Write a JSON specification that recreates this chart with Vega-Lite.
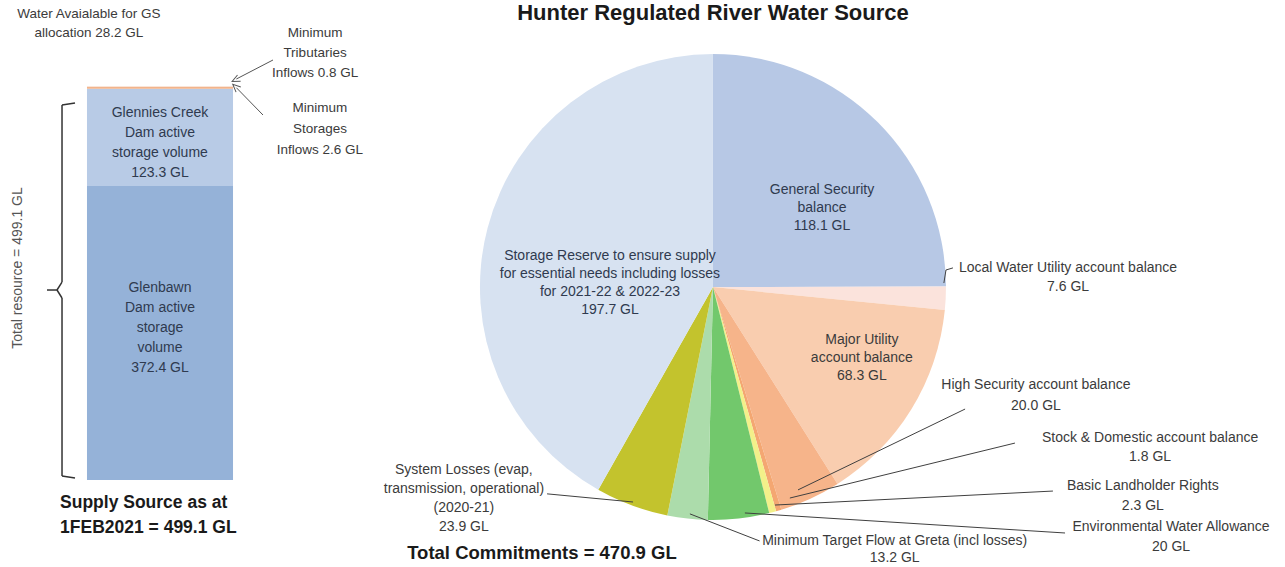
{
  "$schema": "https://vega.github.io/schema/vega-lite/v6.json",
  "padding": 0,
  "spacing": 0,
  "bounds": "flush",
  "background": "white",
  "resolve": {"scale": {"color": "independent"}},
  "config": {"view": {"stroke": null}, "text": {"font": "Liberation Sans"}},
  "datasets": {
    "supply": [
      {"part": "Glenbawn Dam active storage volume", "GL": 372.4, "k": 1},
      {"part": "Glennies Creek Dam active storage volume", "GL": 123.3, "k": 2},
      {"part": "Minimum Storages Inflows", "GL": 2.6, "k": 3},
      {"part": "Minimum Tributaries Inflows", "GL": 0.8, "k": 4}
    ],
    "commitments": [
      {"item": "General Security balance", "GL": 118.1, "idx": 1},
      {"item": "Local Water Utility account balance", "GL": 7.6, "idx": 2},
      {"item": "Major Utility account balance", "GL": 68.3, "idx": 3},
      {"item": "High Security account balance", "GL": 20.0, "idx": 4},
      {"item": "Stock & Domestic account balance", "GL": 1.8, "idx": 5},
      {"item": "Basic Landholder Rights", "GL": 2.3, "idx": 6},
      {"item": "Environmental Water Allowance", "GL": 20, "idx": 7},
      {"item": "Minimum Target Flow at Greta (incl losses)", "GL": 13.2, "idx": 8},
      {"item": "System Losses (evap, transmission, operational) (2020-21)", "GL": 23.9, "idx": 9},
      {"item": "Storage Reserve to ensure supply for essential needs including losses for 2021-22 & 2022-23", "GL": 197.7, "idx": 10}
    ],
    "one": [{"n": 1}]
  },
  "hconcat": [
    {
      "width": 380,
      "height": 567,
      "data": {"name": "one"},
      "layer": [
        {
          "data": {"name": "supply"},
          "transform": [{"stack": "GL", "groupby": [], "sort": [{"field": "k", "order": "ascending"}], "as": ["g0", "g1"]}],
          "mark": {"type": "bar"},
          "encoding": {
            "x": {"datum": 22.89, "type": "quantitative", "scale": {"domain": [0, 100], "nice": false, "zero": false}, "axis": null},
            "x2": {"datum": 61.32},
            "y": {"field": "g0", "type": "quantitative", "scale": {"domain": [-110.2, 608.1], "nice": false, "zero": false}, "axis": null},
            "y2": {"field": "g1"},
            "color": {"field": "part", "type": "nominal", "legend": null,
              "scale": {"domain": ["Glenbawn Dam active storage volume", "Glennies Creek Dam active storage volume", "Minimum Storages Inflows", "Minimum Tributaries Inflows"],
                        "range": ["#95b2d8", "#b8cbe6", "#f2b48c", "#fbe3d3"]}}
          }
        },
        {
          "mark": {"type": "text", "text": "Water Avaialable for GS\nallocation 28.2 GL", "lineBreak": "\n", "fontSize": 13.5, "lineHeight": 19, "align": "center", "baseline": "middle", "color": "#3b3b3b"},
          "encoding": {
            "x": {"datum": 23.4, "type": "quantitative", "scale": {"domain": [0, 100], "nice": false, "zero": false}, "axis": null},
            "y": {"datum": 590.3, "type": "quantitative", "scale": {"domain": [-110.2, 608.1], "nice": false, "zero": false}, "axis": null}
          }
        },
        {
          "mark": {"type": "text", "text": "Minimum\nTributaries\nInflows  0.8 GL", "lineBreak": "\n", "fontSize": 13.5, "lineHeight": 20, "align": "center", "baseline": "middle", "color": "#3b3b3b"},
          "encoding": {
            "x": {"datum": 82.9, "type": "quantitative", "scale": {"domain": [0, 100], "nice": false, "zero": false}, "axis": null},
            "y": {"datum": 566.3, "type": "quantitative", "scale": {"domain": [-110.2, 608.1], "nice": false, "zero": false}, "axis": null}
          }
        },
        {
          "mark": {"type": "text", "text": "Minimum\nStorages\nInflows  2.6 GL", "lineBreak": "\n", "fontSize": 13.5, "lineHeight": 21, "align": "center", "baseline": "middle", "color": "#3b3b3b"},
          "encoding": {
            "x": {"datum": 84.2, "type": "quantitative", "scale": {"domain": [0, 100], "nice": false, "zero": false}, "axis": null},
            "y": {"datum": 471.2, "type": "quantitative", "scale": {"domain": [-110.2, 608.1], "nice": false, "zero": false}, "axis": null}
          }
        },
        {
          "mark": {"type": "text", "text": "Glennies Creek\nDam active\nstorage volume\n123.3 GL", "lineBreak": "\n", "fontSize": 14, "lineHeight": 20, "align": "center", "baseline": "middle", "color": "#2f3a4f"},
          "encoding": {
            "x": {"datum": 42.1, "type": "quantitative", "scale": {"domain": [0, 100], "nice": false, "zero": false}, "axis": null},
            "y": {"datum": 464.9, "type": "quantitative", "scale": {"domain": [-110.2, 608.1], "nice": false, "zero": false}, "axis": null}
          }
        },
        {
          "mark": {"type": "text", "text": "Glenbawn\nDam active\nstorage\nvolume\n372.4 GL", "lineBreak": "\n", "fontSize": 14, "lineHeight": 20, "align": "center", "baseline": "middle", "color": "#2f3a4f"},
          "encoding": {
            "x": {"datum": 42.1, "type": "quantitative", "scale": {"domain": [0, 100], "nice": false, "zero": false}, "axis": null},
            "y": {"datum": 243.2, "type": "quantitative", "scale": {"domain": [-110.2, 608.1], "nice": false, "zero": false}, "axis": null}
          }
        },
        {
          "mark": {"type": "text", "text": "Total resource =  499.1 GL", "angle": 270, "fontSize": 14, "align": "center", "baseline": "middle", "color": "#555555"},
          "encoding": {
            "x": {"datum": 4.74, "type": "quantitative", "scale": {"domain": [0, 100], "nice": false, "zero": false}, "axis": null},
            "y": {"datum": 268.6, "type": "quantitative", "scale": {"domain": [-110.2, 608.1], "nice": false, "zero": false}, "axis": null}
          }
        },
        {
          "mark": {"type": "text", "text": "Supply Source as at\n1FEB2021 = 499.1 GL", "lineBreak": "\n", "fontSize": 17.5, "fontWeight": "bold", "lineHeight": 25, "align": "left", "baseline": "middle", "color": "#1a1a1a"},
          "encoding": {
            "x": {"datum": 15.8, "type": "quantitative", "scale": {"domain": [0, 100], "nice": false, "zero": false}, "axis": null},
            "y": {"datum": -29.5, "type": "quantitative", "scale": {"domain": [-110.2, 608.1], "nice": false, "zero": false}, "axis": null}
          }
        },
        {
          "mark": {"type": "rule", "color": "#333333", "strokeWidth": 1.5},
          "encoding": {
            "x": {"datum": 19.74, "type": "quantitative", "scale": {"domain": [0, 100], "nice": false, "zero": false}, "axis": null},
            "y": {"datum": 477.6, "type": "quantitative", "scale": {"domain": [-110.2, 608.1], "nice": false, "zero": false}, "axis": null},
            "x2": {"datum": 16.32}, "y2": {"datum": 475.1}
          }
        },
        {
          "mark": {"type": "rule", "color": "#333333", "strokeWidth": 1.5},
          "encoding": {
            "x": {"datum": 16.32, "type": "quantitative", "scale": {"domain": [0, 100], "nice": false, "zero": false}, "axis": null},
            "y": {"datum": 475.1, "type": "quantitative", "scale": {"domain": [-110.2, 608.1], "nice": false, "zero": false}, "axis": null},
            "x2": {"datum": 16.32}, "y2": {"datum": 250.8}
          }
        },
        {
          "mark": {"type": "rule", "color": "#333333", "strokeWidth": 1.5},
          "encoding": {
            "x": {"datum": 16.32, "type": "quantitative", "scale": {"domain": [0, 100], "nice": false, "zero": false}, "axis": null},
            "y": {"datum": 250.8, "type": "quantitative", "scale": {"domain": [-110.2, 608.1], "nice": false, "zero": false}, "axis": null},
            "x2": {"datum": 15.0}, "y2": {"datum": 240.7}
          }
        },
        {
          "mark": {"type": "rule", "color": "#333333", "strokeWidth": 1.5},
          "encoding": {
            "x": {"datum": 15.0, "type": "quantitative", "scale": {"domain": [0, 100], "nice": false, "zero": false}, "axis": null},
            "y": {"datum": 240.7, "type": "quantitative", "scale": {"domain": [-110.2, 608.1], "nice": false, "zero": false}, "axis": null},
            "x2": {"datum": 16.32}, "y2": {"datum": 230.6}
          }
        },
        {
          "mark": {"type": "rule", "color": "#333333", "strokeWidth": 1.5},
          "encoding": {
            "x": {"datum": 12.37, "type": "quantitative", "scale": {"domain": [0, 100], "nice": false, "zero": false}, "axis": null},
            "y": {"datum": 240.7, "type": "quantitative", "scale": {"domain": [-110.2, 608.1], "nice": false, "zero": false}, "axis": null},
            "x2": {"datum": 15.0}, "y2": {"datum": 240.7}
          }
        },
        {
          "mark": {"type": "rule", "color": "#333333", "strokeWidth": 1.5},
          "encoding": {
            "x": {"datum": 16.32, "type": "quantitative", "scale": {"domain": [0, 100], "nice": false, "zero": false}, "axis": null},
            "y": {"datum": 230.6, "type": "quantitative", "scale": {"domain": [-110.2, 608.1], "nice": false, "zero": false}, "axis": null},
            "x2": {"datum": 16.32}, "y2": {"datum": 5.1}
          }
        },
        {
          "mark": {"type": "rule", "color": "#333333", "strokeWidth": 1.5},
          "encoding": {
            "x": {"datum": 16.32, "type": "quantitative", "scale": {"domain": [0, 100], "nice": false, "zero": false}, "axis": null},
            "y": {"datum": 5.1, "type": "quantitative", "scale": {"domain": [-110.2, 608.1], "nice": false, "zero": false}, "axis": null},
            "x2": {"datum": 19.74}, "y2": {"datum": 2.5}
          }
        },
        {
          "mark": {"type": "rule", "color": "#555555", "strokeWidth": 1},
          "encoding": {
            "x": {"datum": 71.84, "type": "quantitative", "scale": {"domain": [0, 100], "nice": false, "zero": false}, "axis": null},
            "y": {"datum": 532.1, "type": "quantitative", "scale": {"domain": [-110.2, 608.1], "nice": false, "zero": false}, "axis": null},
            "x2": {"datum": 62.2}, "y2": {"datum": 508.0}
          }
        },
        {
          "mark": {"type": "rule", "color": "#555555", "strokeWidth": 1},
          "encoding": {
            "x": {"datum": 69.21, "type": "quantitative", "scale": {"domain": [0, 100], "nice": false, "zero": false}, "axis": null},
            "y": {"datum": 462.4, "type": "quantitative", "scale": {"domain": [-110.2, 608.1], "nice": false, "zero": false}, "axis": null},
            "x2": {"datum": 62.2}, "y2": {"datum": 497.0}
          }
        },
        {
          "mark": {"type": "point", "shape": "M-0.9,1L0,-1L0.9,1", "filled": false, "size": 60, "angle": 243.4, "color": "#555555", "strokeWidth": 1, "opacity": 1},
          "encoding": {
            "x": {"datum": 62.0, "type": "quantitative", "scale": {"domain": [0, 100], "nice": false, "zero": false}, "axis": null},
            "y": {"datum": 507.0, "type": "quantitative", "scale": {"domain": [-110.2, 608.1], "nice": false, "zero": false}, "axis": null}
          }
        },
        {
          "mark": {"type": "point", "shape": "M-0.9,1L0,-1L0.9,1", "filled": false, "size": 60, "angle": 313, "color": "#555555", "strokeWidth": 1, "opacity": 1},
          "encoding": {
            "x": {"datum": 62.0, "type": "quantitative", "scale": {"domain": [0, 100], "nice": false, "zero": false}, "axis": null},
            "y": {"datum": 498.0, "type": "quantitative", "scale": {"domain": [-110.2, 608.1], "nice": false, "zero": false}, "axis": null}
          }
        }
      ]
    },
    {
      "width": 905,
      "height": 567,
      "data": {"name": "one"},
      "layer": [
        {
          "data": {"name": "commitments"},
          "mark": {"type": "arc", "outerRadius": 233},
          "encoding": {
            "theta": {"field": "GL", "type": "quantitative", "stack": true},
            "order": {"field": "idx", "type": "quantitative"},
            "color": {"field": "item", "type": "nominal", "legend": null,
              "scale": {"domain": ["General Security balance", "Local Water Utility account balance", "Major Utility account balance", "High Security account balance", "Stock & Domestic account balance", "Basic Landholder Rights", "Environmental Water Allowance", "Minimum Target Flow at Greta (incl losses)", "System Losses (evap, transmission, operational) (2020-21)", "Storage Reserve to ensure supply for essential needs including losses for 2021-22 & 2022-23"],
                        "range": ["#b7c8e5", "#fbe3dc", "#f9cdaf", "#f6b48a", "#f4a772", "#f3f08a", "#72c86c", "#acdcab", "#c3c32d", "#d7e2f1"]}},
            "x": {"datum": 0, "type": "quantitative", "scale": {"domain": [-1.429, 2.455], "nice": false, "zero": false}, "axis": null},
            "y": {"datum": 0, "type": "quantitative", "scale": {"domain": [-1.202, 1.232], "nice": false, "zero": false}, "axis": null}
          }
        },
        {
          "mark": {"type": "text", "text": "Hunter Regulated River Water Source", "fontSize": 22, "fontWeight": "bold", "align": "center", "baseline": "top", "color": "#1a1a1a"},
          "encoding": {
            "x": {"datum": 0, "type": "quantitative", "scale": {"domain": [-1.429, 2.455], "nice": false, "zero": false}, "axis": null},
            "y": {"datum": 1.218, "type": "quantitative", "scale": {"domain": [-1.202, 1.232], "nice": false, "zero": false}, "axis": null}
          }
        },
        {
          "mark": {"type": "text", "text": "General Security\nbalance\n118.1 GL", "lineBreak": "\n", "fontSize": 14, "lineHeight": 18, "align": "center", "baseline": "middle", "color": "#2f3a4f"},
          "encoding": {
            "x": {"datum": 0.468, "type": "quantitative", "scale": {"domain": [-1.429, 2.455], "nice": false, "zero": false}, "axis": null},
            "y": {"datum": 0.416, "type": "quantitative", "scale": {"domain": [-1.202, 1.232], "nice": false, "zero": false}, "axis": null}
          }
        },
        {
          "mark": {"type": "text", "text": "Storage Reserve to ensure supply\nfor essential needs including losses\nfor 2021-22 & 2022-23\n197.7 GL", "lineBreak": "\n", "fontSize": 14, "lineHeight": 18, "align": "center", "baseline": "middle", "color": "#2f3a4f"},
          "encoding": {
            "x": {"datum": -0.442, "type": "quantitative", "scale": {"domain": [-1.429, 2.455], "nice": false, "zero": false}, "axis": null},
            "y": {"datum": 0.133, "type": "quantitative", "scale": {"domain": [-1.202, 1.232], "nice": false, "zero": false}, "axis": null}
          }
        },
        {
          "mark": {"type": "text", "text": "Major Utility\naccount balance\n68.3 GL", "lineBreak": "\n", "fontSize": 14, "lineHeight": 18, "align": "center", "baseline": "middle", "color": "#3b3b3b"},
          "encoding": {
            "x": {"datum": 0.639, "type": "quantitative", "scale": {"domain": [-1.429, 2.455], "nice": false, "zero": false}, "axis": null},
            "y": {"datum": -0.227, "type": "quantitative", "scale": {"domain": [-1.202, 1.232], "nice": false, "zero": false}, "axis": null}
          }
        },
        {
          "mark": {"type": "text", "text": "Local Water Utility account balance\n7.6 GL", "lineBreak": "\n", "fontSize": 14, "lineHeight": 19, "align": "center", "baseline": "middle", "color": "#3b3b3b"},
          "encoding": {
            "x": {"datum": 1.524, "type": "quantitative", "scale": {"domain": [-1.429, 2.455], "nice": false, "zero": false}, "axis": null},
            "y": {"datum": 0.082, "type": "quantitative", "scale": {"domain": [-1.202, 1.232], "nice": false, "zero": false}, "axis": null}
          }
        },
        {
          "mark": {"type": "text", "text": "High Security account balance\n20.0 GL", "lineBreak": "\n", "fontSize": 14, "lineHeight": 21, "align": "center", "baseline": "middle", "color": "#3b3b3b"},
          "encoding": {
            "x": {"datum": 1.386, "type": "quantitative", "scale": {"domain": [-1.429, 2.455], "nice": false, "zero": false}, "axis": null},
            "y": {"datum": -0.421, "type": "quantitative", "scale": {"domain": [-1.202, 1.232], "nice": false, "zero": false}, "axis": null}
          }
        },
        {
          "mark": {"type": "text", "text": "Stock & Domestic account balance\n1.8 GL", "lineBreak": "\n", "fontSize": 14, "lineHeight": 19, "align": "center", "baseline": "middle", "color": "#3b3b3b"},
          "encoding": {
            "x": {"datum": 1.876, "type": "quantitative", "scale": {"domain": [-1.429, 2.455], "nice": false, "zero": false}, "axis": null},
            "y": {"datum": -0.648, "type": "quantitative", "scale": {"domain": [-1.202, 1.232], "nice": false, "zero": false}, "axis": null}
          }
        },
        {
          "mark": {"type": "text", "text": "Basic Landholder Rights\n2.3 GL", "lineBreak": "\n", "fontSize": 14, "lineHeight": 20, "align": "center", "baseline": "middle", "color": "#3b3b3b"},
          "encoding": {
            "x": {"datum": 1.845, "type": "quantitative", "scale": {"domain": [-1.429, 2.455], "nice": false, "zero": false}, "axis": null},
            "y": {"datum": -0.854, "type": "quantitative", "scale": {"domain": [-1.202, 1.232], "nice": false, "zero": false}, "axis": null}
          }
        },
        {
          "mark": {"type": "text", "text": "Environmental Water Allowance\n20 GL", "lineBreak": "\n", "fontSize": 14, "lineHeight": 20, "align": "center", "baseline": "middle", "color": "#3b3b3b"},
          "encoding": {
            "x": {"datum": 1.966, "type": "quantitative", "scale": {"domain": [-1.429, 2.455], "nice": false, "zero": false}, "axis": null},
            "y": {"datum": -1.03, "type": "quantitative", "scale": {"domain": [-1.202, 1.232], "nice": false, "zero": false}, "axis": null}
          }
        },
        {
          "mark": {"type": "text", "text": "Minimum Target Flow at Greta (incl losses)\n13.2 GL", "lineBreak": "\n", "fontSize": 14, "lineHeight": 17, "align": "center", "baseline": "middle", "color": "#3b3b3b"},
          "encoding": {
            "x": {"datum": 0.78, "type": "quantitative", "scale": {"domain": [-1.429, 2.455], "nice": false, "zero": false}, "axis": null},
            "y": {"datum": -1.09, "type": "quantitative", "scale": {"domain": [-1.202, 1.232], "nice": false, "zero": false}, "axis": null}
          }
        },
        {
          "mark": {"type": "text", "text": "System Losses (evap,\ntransmission, operational)\n(2020-21)\n23.9 GL", "lineBreak": "\n", "fontSize": 14, "lineHeight": 19, "align": "center", "baseline": "middle", "color": "#3b3b3b"},
          "encoding": {
            "x": {"datum": -1.069, "type": "quantitative", "scale": {"domain": [-1.429, 2.455], "nice": false, "zero": false}, "axis": null},
            "y": {"datum": -0.785, "type": "quantitative", "scale": {"domain": [-1.202, 1.232], "nice": false, "zero": false}, "axis": null}
          }
        },
        {
          "mark": {"type": "text", "text": "Total Commitments = 470.9 GL", "fontSize": 18.5, "fontWeight": "bold", "align": "center", "baseline": "middle", "color": "#1a1a1a"},
          "encoding": {
            "x": {"datum": -0.734, "type": "quantitative", "scale": {"domain": [-1.429, 2.455], "nice": false, "zero": false}, "axis": null},
            "y": {"datum": -1.142, "type": "quantitative", "scale": {"domain": [-1.202, 1.232], "nice": false, "zero": false}, "axis": null}
          }
        },
        {
          "mark": {"type": "rule", "color": "#404040", "strokeWidth": 1},
          "encoding": {
            "x": {"datum": -0.712, "type": "quantitative", "scale": {"domain": [-1.429, 2.455], "nice": false, "zero": false}, "axis": null},
            "y": {"datum": -0.888, "type": "quantitative", "scale": {"domain": [-1.202, 1.232], "nice": false, "zero": false}, "axis": null},
            "x2": {"datum": -0.343}, "y2": {"datum": -0.923}
          }
        },
        {
          "mark": {"type": "rule", "color": "#404040", "strokeWidth": 1},
          "encoding": {
            "x": {"datum": -0.099, "type": "quantitative", "scale": {"domain": [-1.429, 2.455], "nice": false, "zero": false}, "axis": null},
            "y": {"datum": -0.974, "type": "quantitative", "scale": {"domain": [-1.202, 1.232], "nice": false, "zero": false}, "axis": null},
            "x2": {"datum": 0.189}, "y2": {"datum": -1.086}
          }
        },
        {
          "mark": {"type": "rule", "color": "#404040", "strokeWidth": 1},
          "encoding": {
            "x": {"datum": 0.189, "type": "quantitative", "scale": {"domain": [-1.429, 2.455], "nice": false, "zero": false}, "axis": null},
            "y": {"datum": -1.086, "type": "quantitative", "scale": {"domain": [-1.202, 1.232], "nice": false, "zero": false}, "axis": null},
            "x2": {"datum": 0.2}, "y2": {"datum": -1.09}
          }
        },
        {
          "mark": {"type": "rule", "color": "#404040", "strokeWidth": 1},
          "encoding": {
            "x": {"datum": 0.137, "type": "quantitative", "scale": {"domain": [-1.429, 2.455], "nice": false, "zero": false}, "axis": null},
            "y": {"datum": -0.97, "type": "quantitative", "scale": {"domain": [-1.202, 1.232], "nice": false, "zero": false}, "axis": null},
            "x2": {"datum": 1.511}, "y2": {"datum": -1.056}
          }
        },
        {
          "mark": {"type": "rule", "color": "#404040", "strokeWidth": 1},
          "encoding": {
            "x": {"datum": 0.266, "type": "quantitative", "scale": {"domain": [-1.429, 2.455], "nice": false, "zero": false}, "axis": null},
            "y": {"datum": -0.936, "type": "quantitative", "scale": {"domain": [-1.202, 1.232], "nice": false, "zero": false}, "axis": null},
            "x2": {"datum": 1.459}, "y2": {"datum": -0.876}
          }
        },
        {
          "mark": {"type": "rule", "color": "#404040", "strokeWidth": 1},
          "encoding": {
            "x": {"datum": 0.33, "type": "quantitative", "scale": {"domain": [-1.429, 2.455], "nice": false, "zero": false}, "axis": null},
            "y": {"datum": -0.906, "type": "quantitative", "scale": {"domain": [-1.202, 1.232], "nice": false, "zero": false}, "axis": null},
            "x2": {"datum": 1.296}, "y2": {"datum": -0.67}
          }
        },
        {
          "mark": {"type": "rule", "color": "#404040", "strokeWidth": 1},
          "encoding": {
            "x": {"datum": 0.365, "type": "quantitative", "scale": {"domain": [-1.429, 2.455], "nice": false, "zero": false}, "axis": null},
            "y": {"datum": -0.871, "type": "quantitative", "scale": {"domain": [-1.202, 1.232], "nice": false, "zero": false}, "axis": null},
            "x2": {"datum": 1.082}, "y2": {"datum": -0.524}
          }
        },
        {
          "mark": {"type": "rule", "color": "#404040", "strokeWidth": 1},
          "encoding": {
            "x": {"datum": 0.991, "type": "quantitative", "scale": {"domain": [-1.429, 2.455], "nice": false, "zero": false}, "axis": null},
            "y": {"datum": 0.017, "type": "quantitative", "scale": {"domain": [-1.202, 1.232], "nice": false, "zero": false}, "axis": null},
            "x2": {"datum": 1.0}, "y2": {"datum": 0.073}
          }
        },
        {
          "mark": {"type": "rule", "color": "#404040", "strokeWidth": 1},
          "encoding": {
            "x": {"datum": 1.0, "type": "quantitative", "scale": {"domain": [-1.429, 2.455], "nice": false, "zero": false}, "axis": null},
            "y": {"datum": 0.073, "type": "quantitative", "scale": {"domain": [-1.202, 1.232], "nice": false, "zero": false}, "axis": null},
            "x2": {"datum": 1.03}, "y2": {"datum": 0.082}
          }
        }
      ]
    }
  ]
}
